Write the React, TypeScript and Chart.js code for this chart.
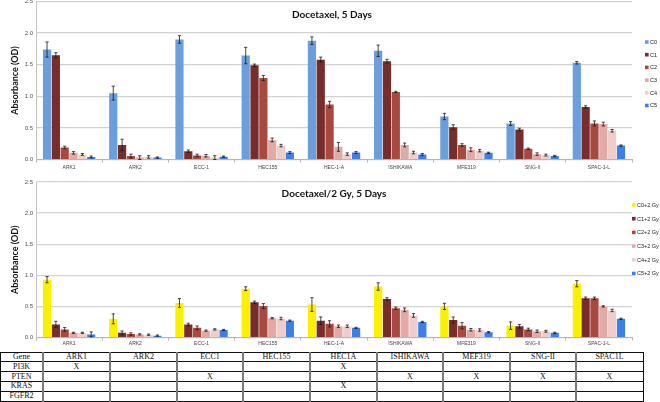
import React, { useEffect, useRef } from "react";
import { Chart, registerables } from "chart.js";
Chart.register(...registerables);

const categories = ["ARK1", "ARK2", "ECC-1", "HEC155", "HEC-1-A", "ISHIKAWA", "MFE319", "SNG-II", "SPAC-1-L"];

const topTitle = "Docetaxel, 5 Days";
const topLabels = ["C0", "C1", "C2", "C3", "C4", "C5"];
const topC0 = [1.74, 1.05, 1.9, 1.645, 1.88, 1.72, 0.68, 0.57, 1.53];
const topC1 = [1.65, 0.23, 0.13, 1.49, 1.58, 1.555, 0.51, 0.475, 0.83];
const topC2 = [0.19, 0.055, 0.065, 1.29, 0.87, 1.07, 0.23, 0.17, 0.57];
const topC3 = [0.105, 0.03, 0.06, 0.31, 0.2, 0.23, 0.155, 0.085, 0.56];
const topC4 = [0.08, 0.04, 0.03, 0.22, 0.085, 0.11, 0.14, 0.07, 0.455];
const topC5 = [0.04, 0.03, 0.045, 0.11, 0.11, 0.08, 0.105, 0.055, 0.22];
const topE0 = [0.12, 0.11, 0.06, 0.13, 0.06, 0.09, 0.05, 0.03, 0.02];
const topE1 = [0.04, 0.09, 0.02, 0.02, 0.04, 0.03, 0.04, 0.02, 0.02];
const topE2 = [0.02, 0.03, 0.02, 0.04, 0.05, 0.01, 0.02, 0.01, 0.04];
const topE3 = [0.02, 0.03, 0.02, 0.03, 0.07, 0.03, 0.03, 0.02, 0.03];
const topE4 = [0.015, 0.02, 0.03, 0.02, 0.02, 0.02, 0.02, 0.015, 0.02];
const topE5 = [0.015, 0.01, 0.01, 0.015, 0.015, 0.015, 0.01, 0.01, 0.01];

const botTitle = "Docetaxel/2 Gy, 5 Days";
const botLabels = ["C0+2 Gy", "C1+2 Gy", "C2+2 Gy", "C3+2 Gy", "C4+2 Gy", "C5+2 Gy"];
const botC0 = [0.93, 0.3, 0.555, 0.785, 0.53, 0.82, 0.5, 0.19, 0.865];
const botC1 = [0.21, 0.075, 0.21, 0.565, 0.27, 0.62, 0.28, 0.18, 0.63];
const botC2 = [0.13, 0.055, 0.155, 0.505, 0.22, 0.47, 0.19, 0.13, 0.63];
const botC3 = [0.075, 0.05, 0.11, 0.31, 0.18, 0.445, 0.125, 0.1, 0.5];
const botC4 = [0.075, 0.045, 0.13, 0.305, 0.18, 0.355, 0.12, 0.1, 0.435];
const botC5 = [0.05, 0.03, 0.12, 0.27, 0.155, 0.25, 0.085, 0.075, 0.3];
const botE0 = [0.05, 0.08, 0.07, 0.03, 0.11, 0.06, 0.05, 0.06, 0.05];
const botE1 = [0.05, 0.03, 0.02, 0.02, 0.06, 0.02, 0.05, 0.03, 0.02];
const botE2 = [0.03, 0.02, 0.03, 0.04, 0.05, 0.02, 0.05, 0.02, 0.02];
const botE3 = [0.01, 0.01, 0.01, 0.01, 0.02, 0.03, 0.02, 0.02, 0.01];
const botE4 = [0.01, 0.01, 0.01, 0.02, 0.02, 0.03, 0.02, 0.015, 0.02];
const botE5 = [0.04, 0.01, 0.01, 0.01, 0.01, 0.01, 0.01, 0.01, 0.01];

const topColors = ["#6a9fdb", "#762d2b", "#a9483f", "#e1aaa6", "#f0cdcb", "#3d7fe8"];
const botColors = ["#fbf000", "#762d2b", "#a9483f", "#e1aaa6", "#f0cdcb", "#3d7fe8"];

const yTicks = [0, 0.5, 1, 1.5, 2, 2.5];

const geneHeader = ["Gene", "ARK1", "ARK2", "ECC1", "HEC155", "HEC1A", "ISHIKAWA", "MEF319", "SNG-II", "SPAC1L"];
const geneRows = ["PI3K", "PTEN", "KRAS", "FGFR2"];
const pi3k = ["X", "", "", "", "X", "", "", "", ""];
const pten = ["", "", "X", "", "", "X", "X", "X", "X"];
const kras = ["", "", "", "", "X", "", "", "", ""];
const fgfr2 = ["", "", "", "", "", "", "", "", ""];
const geneMarks = [pi3k, pten, kras, fgfr2];

const errorBarPlugin = {
  id: "errBars",
  afterDatasetsDraw(chart: any) {
    const errs = chart.options.plugins.errBars.errors;
    const ys = chart.scales.y;
    const ctx = chart.ctx;
    ctx.save();
    ctx.strokeStyle = "#1a1a1a";
    ctx.lineWidth = 0.8;
    chart.data.datasets.forEach((ds: any, i: number) => {
      const meta = chart.getDatasetMeta(i);
      meta.data.forEach((el: any, j: number) => {
        const v = ds.data[j];
        const e = errs[i][j];
        const x = el.x;
        const y1 = ys.getPixelForValue(v + e);
        const y2 = ys.getPixelForValue(Math.max(0, v - e));
        ctx.beginPath();
        ctx.moveTo(x, y1);
        ctx.lineTo(x, y2);
        ctx.moveTo(x - 1.6, y1);
        ctx.lineTo(x + 1.6, y1);
        ctx.moveTo(x - 1.6, y2);
        ctx.lineTo(x + 1.6, y2);
        ctx.stroke();
      });
    });
    ctx.restore();
  },
};

const overlayPlugin = {
  id: "overlay",
  afterDraw(chart: any) {
    const o = chart.options.plugins.overlay;
    const ctx = chart.ctx;
    ctx.save();
    ctx.fillStyle = "#111";
    ctx.font = "bold 10px Lato";
    ctx.textAlign = "center";
    ctx.textBaseline = "middle";
    ctx.fillText(o.title, o.titleX, o.titleY);
    ctx.font = "5.5px 'Liberation Sans'";
    ctx.textAlign = "left";
    chart.data.datasets.forEach((ds: any, i: number) => {
      const y = o.legY + i * o.legStep;
      ctx.fillStyle = ds.backgroundColor;
      ctx.fillRect(o.legX, y - 1.8, 3.6, 3.6);
      ctx.fillStyle = "#222";
      ctx.fillText(ds.label, o.legX + 5, y + 0.3);
    });
    ctx.restore();
  },
};

type Props = {
  top: number;
  height: number;
  padTop: number;
  xHeight: number;
  xPad: number;
  labels: string[];
  series: number[][];
  errors: number[][];
  colors: string[];
  title: string;
  titleX: number;
  titleY: number;
  legX: number;
  legY: number;
  legStep: number;
};

function BarChart(p: Props) {
  const ref = useRef<HTMLCanvasElement>(null);
  useEffect(() => {
    const chart = new Chart(ref.current as HTMLCanvasElement, {
      type: "bar",
      data: {
        labels: categories,
        datasets: p.series.map((s, i) => ({
          label: p.labels[i],
          data: s,
          backgroundColor: p.colors[i],
          borderWidth: 0,
          categoryPercentage: 0.8,
          barPercentage: 0.93,
        })),
      },
      options: {
        responsive: false,
        animation: false,
        events: [],
        layout: { padding: { left: 0, right: 28, top: p.padTop, bottom: 0 } },
        plugins: {
          legend: { display: false },
          title: { display: false },
          tooltip: { enabled: false },
          errBars: { errors: p.errors },
          overlay: {
            title: p.title,
            titleX: p.titleX,
            titleY: p.titleY,
            legX: p.legX,
            legY: p.legY,
            legStep: p.legStep,
          },
        } as any,
        scales: {
          x: {
            grid: { display: true, drawOnChartArea: false, drawTicks: true, tickLength: 3, color: "#b5b5b5", offset: true },
            border: { color: "#b5b5b5", width: 1 },
            ticks: {
              font: { size: 5, family: "'Liberation Sans'" },
              color: "#444",
              autoSkip: false,
              maxRotation: 0,
              minRotation: 0,
              padding: p.xPad,
            },
            afterFit: (s: any) => {
              s.height = p.xHeight;
              s.paddingLeft = 0;
              s.paddingRight = 0;
            },
          },
          y: {
            min: 0,
            max: 2.5,
            afterBuildTicks: (s: any) => {
              s.ticks = yTicks.map((v) => ({ value: v }));
            },
            ticks: {
              callback: (v: any) => Number(v).toFixed(1),
              font: { size: 6, family: "'Liberation Sans'" },
              color: "#555",
              padding: 3,
            },
            grid: { color: "#d2d2d2", lineWidth: 1.2, drawTicks: false },
            border: { color: "#c4c4c4", width: 1 },
            title: {
              display: true,
              text: "Absorbance (OD)",
              font: { size: 9, weight: "bold", family: "Lato" },
              color: "#111",
              padding: { top: 10, bottom: 0 },
            },
            afterFit: (s: any) => {
              s.width = 36;
              s.paddingTop = 0;
              s.paddingBottom = 0;
            },
          },
        },
      } as any,
      plugins: [errorBarPlugin, overlayPlugin],
    });
    return () => chart.destroy();
  }, []);
  return (
    <canvas
      ref={ref}
      width={660}
      height={p.height}
      style={{ position: "absolute", left: 0, top: p.top, width: 660, height: p.height }}
    />
  );
}

function GeneTable() {
  const top = 352;
  const rowH = 9.8;
  const colX = [0, 43, 110, 177, 243, 310, 377, 443, 510, 576, 643];
  const rows = [geneHeader, ...geneRows.map((r, i) => [r, ...geneMarks[i]])];
  const els: React.ReactNode[] = [];
  for (let r = 0; r <= rows.length; r++) {
    els.push(
      <div
        key={"h" + r}
        style={{ position: "absolute", left: 0, top: top + r * rowH - 0.5, width: 643, height: 1, background: "#111" }}
      />
    );
  }
  colX.forEach((x, i) => {
    const outer = i === 0 || i === colX.length - 1;
    els.push(
      <div
        key={"v" + i}
        style={{
          position: "absolute",
          left: x - (outer ? 0.5 : 1),
          top: top - 0.5,
          width: outer ? 1.2 : 2,
          height: rows.length * rowH + 1,
          background: outer ? "#111" : "#7a7a7a",
        }}
      />
    );
  });
  rows.forEach((row, r) =>
    row.forEach((txt, c) => {
      if (!txt) return;
      els.push(
        <div
          key={"t" + r + "_" + c}
          style={{
            position: "absolute",
            left: colX[c],
            width: colX[c + 1] - colX[c],
            top: top + r * rowH,
            height: rowH,
            lineHeight: rowH + "px",
            textAlign: "center",
            fontFamily: "'Liberation Serif', serif",
            fontSize: 8,
            color: "#111",
            whiteSpace: "nowrap",
          }}
        >
          {txt}
        </div>
      );
    })
  );
  return <>{els}</>;
}

export default function App() {
  return (
    <div style={{ position: "fixed", left: 0, top: 0, width: 660, height: 402, background: "#fff", overflow: "hidden" }}>
      <BarChart
        top={0}
        height={174}
        padTop={1.5}
        xHeight={14.5}
        xPad={2}
        labels={topLabels}
        series={[topC0, topC1, topC2, topC3, topC4, topC5]}
        errors={[topE0, topE1, topE2, topE3, topE4, topE5]}
        colors={topColors}
        title={topTitle}
        titleX={332}
        titleY={15}
        legX={645}
        legY={42}
        legStep={12.7}
      />
      <BarChart
        top={174}
        height={176}
        padTop={8}
        xHeight={12.5}
        xPad={0}
        labels={botLabels}
        series={[botC0, botC1, botC2, botC3, botC4, botC5]}
        errors={[botE0, botE1, botE2, botE3, botE4, botE5]}
        colors={botColors}
        title={botTitle}
        titleX={334}
        titleY={20}
        legX={632}
        legY={31}
        legStep={13.7}
      />
      <GeneTable />
    </div>
  );
}
